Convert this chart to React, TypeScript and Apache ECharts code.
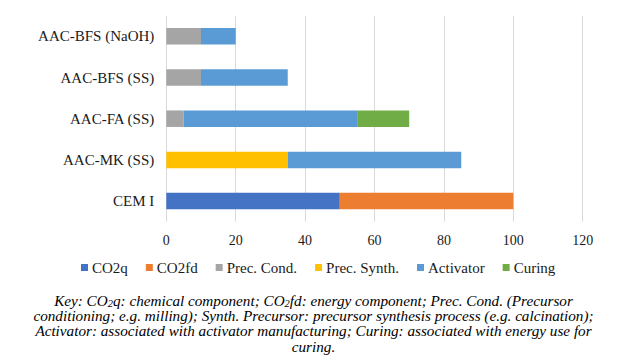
import React, { useEffect, useRef } from "react";
import * as echarts from "echarts";

const categories = ["CEM I", "AAC-MK (SS)", "AAC-FA (SS)", "AAC-BFS (SS)", "AAC-BFS (NaOH)"];
const co2q = [50, null, null, null, null];
const co2fd = [50, null, null, null, null];
const precCond = [null, null, 5, 10, 10];
const precSynth = [null, 35, null, null, null];
const activator = [null, 50, 50, 25, 10];
const curing = [null, null, 15, null, null];
const seriesNames = ["CO2q", "CO2fd", "Prec. Cond.", "Prec. Synth.", "Activator", "Curing"];
const seriesColors = ["#4472C4", "#ED7D31", "#A5A5A5", "#FFC000", "#5B9BD5", "#70AD47"];
const seriesData = [co2q, co2fd, precCond, precSynth, activator, curing];
const captionLines = [
  "conditioning; e.g. milling); Synth. Precursor: precursor synthesis process (e.g. calcination);",
  "Activator: associated with activator manufacturing; Curing: associated with energy use for",
  "curing.",
];

const SERIF = "Liberation Serif";
const CAP = 15.2;

export default function App() {
  const ref = useRef<HTMLDivElement>(null);
  useEffect(() => {
    if (!ref.current) return;
    const chart = echarts.init(ref.current, null, { renderer: "svg" });
    const capStyle = { fontFamily: SERIF, fontStyle: "italic", fontSize: CAP, fill: "#000" };
    const rich = {
      i: { fontFamily: SERIF, fontStyle: "italic", fontSize: CAP, fill: "#000", color: "#000" },
      s: { fontFamily: SERIF, fontStyle: "italic", fontSize: 10.5, fill: "#000", color: "#000", padding: [6, 0, 0, 0] },
    };
    chart.setOption({
      animation: false,
      grid: { left: 166.3, right: 44.3, top: 15.7, bottom: 141.3, containLabel: false },
      xAxis: {
        type: "value",
        min: 0,
        max: 120,
        interval: 20,
        axisLine: { show: false },
        axisTick: { show: false },
        splitLine: { show: true, lineStyle: { color: "#D9D9D9", width: 1 } },
        axisLabel: { fontFamily: SERIF, fontSize: 14, color: "#1a1a1a", margin: 12 },
      },
      yAxis: {
        type: "category",
        data: categories,
        axisLine: { show: false },
        axisTick: { show: false },
        axisLabel: { fontFamily: SERIF, fontSize: 15, color: "#1a1a1a", margin: 12 },
      },
      legend: {
        left: 81,
        top: 260,
        padding: 0,
        itemGap: 18,
        itemWidth: 7,
        itemHeight: 7,
        icon: "rect",
        textStyle: { fontFamily: SERIF, fontSize: 15, color: "#1a1a1a", padding: [0, 0, 0, -1] },
        data: seriesNames,
      },
      series: seriesNames.map((name, k) => ({
        name,
        type: "bar",
        stack: "total",
        barWidth: 16.5,
        itemStyle: { color: seriesColors[k] },
        data: seriesData[k],
      })),
      graphic: [
        {
          type: "text",
          x: 313.5,
          y: 300,
          style: {
            ...capStyle,
            text: "{i|Key: CO}{s|2}{i|q: chemical component; CO}{s|2}{i|fd: energy component; Prec. Cond. (Precursor}",
            rich,
            align: "center",
            verticalAlign: "middle",
          },
        },
        ...captionLines.map((t, i) => ({
          type: "text",
          x: 313.5,
          y: 315.5 + i * 15.3,
          style: {
            ...capStyle,
            text: t,
            align: "center",
            verticalAlign: "middle",
          },
        })),
      ],
    });
    return () => chart.dispose();
  }, []);
  return (
    <div
      ref={ref}
      style={{ position: "fixed", left: 0, top: 0, width: 627, height: 363, background: "#fff" }}
    />
  );
}
